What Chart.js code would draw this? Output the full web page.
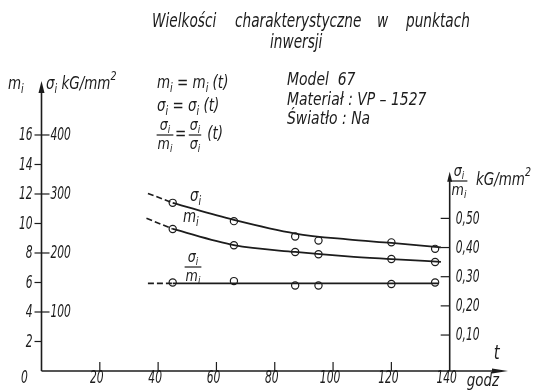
<!DOCTYPE html>
<html>
<head>
<meta charset="utf-8">
<script src="https://cdn.jsdelivr.net/npm/chart.js@4.4.1/dist/chart.umd.min.js"></script>
<style>
  html, body { margin: 0; padding: 0; background: #fff; }
  #wrap { width: 535px; height: 390px; position: relative; }
</style>
</head>
<body>
<div id="wrap"><canvas id="myChart"></canvas></div>
<script>
// measured points (t in hours)
const hours = [45, 66, 87, 95, 120, 135];
const sigmaVals = [285, 254, 228, 221, 218, 207];
const mVals = [9.63, 8.53, 8.07, 7.91, 7.59, 7.39];
const ratioVals = [0.28, 0.285, 0.27, 0.27, 0.275, 0.28];

// smooth curves drawn through the measurements
const fitHours = [45, 66, 87, 105, 120, 137];
const sigmaFit = [285, 256, 233, 223, 217, 209.5];
const mFit = [9.63, 8.53, 8.07, 7.77, 7.59, 7.40];
const ratioLevel = 0.277;

// dashed extrapolation back to ~36 h
const extraHours = [36.5, 36, 36.5];
const extraVals = [301, 10.35, 0.277];

// axis ticks
const hourTicks = [0, 20, 40, 60, 80, 100, 120, 140];
const mTicks = [2, 4, 6, 8, 10, 12, 14, 16];
const sigmaTicks = [100, 200, 300, 400];
const ratioTicks = [0.1, 0.2, 0.3, 0.4, 0.5];

const FONT = '"Liberation Sans Narrow", "DejaVu Sans Condensed", sans-serif';
const INK = '#1c1c1c';

const ctx = document.getElementById('myChart');

function pts(xs, ys) {
  return xs.map((x, i) => ({ x: x, y: ys[i] }));
}

// text with _sub and ^sup pieces, squeezed horizontally
function runs(c, parts, x, y, size, sq) {
  sq = sq || 0.88;
  c.save();
  c.translate(x, y);
  c.scale(sq, 1);
  let cx = 0;
  parts.forEach(p => {
    const sub = p[0] === '_';
    const sup = p[0] === '^';
    const s = (sub || sup) ? p.slice(1) : p;
    const fs = (sub || sup) ? Math.round(size * 0.68) : size;
    c.font = 'italic ' + fs + 'px ' + FONT;
    const dy = sub ? size * 0.3 : (sup ? -size * 0.45 : 0);
    c.fillText(s, cx, dy);
    cx += c.measureText(s).width;
  });
  c.restore();
  return cx * sq;
}

function runsWidth(c, parts, size, sq) {
  sq = sq || 0.88;
  let w = 0;
  parts.forEach(p => {
    const small = p[0] === '_' || p[0] === '^';
    const s = small ? p.slice(1) : p;
    c.font = 'italic ' + (small ? Math.round(size * 0.68) : size) + 'px ' + FONT;
    w += c.measureText(s).width;
  });
  return w * sq;
}

function frac(c, num, den, cx, yBar, size) {
  const wn = runsWidth(c, num, size);
  const wd = runsWidth(c, den, size);
  const w = Math.max(wn, wd) + 2;
  runs(c, num, cx - wn / 2, yBar - size * 0.6, size);
  runs(c, den, cx - wd / 2, yBar + size * 0.6, size);
  c.beginPath();
  c.moveTo(cx - w / 2, yBar);
  c.lineTo(cx + w / 2, yBar);
  c.stroke();
}

// narrow tick numbers
function num(c, s, x, y, align) {
  c.font = 'italic 17px ' + FONT;
  c.save();
  c.translate(x, y);
  c.scale(0.7, 1);
  c.textAlign = align;
  c.fillText(s, 0, 0);
  c.restore();
}

function arrow(c, tipX, tipY, dir, len, half) {
  c.beginPath();
  if (dir === 'up') {
    c.moveTo(tipX, tipY);
    c.lineTo(tipX - half, tipY + len);
    c.lineTo(tipX + half, tipY + len);
  } else {
    c.moveTo(tipX, tipY);
    c.lineTo(tipX - len, tipY - half);
    c.lineTo(tipX - len, tipY + half);
  }
  c.closePath();
  c.fill();
}

const drawAxes = {
  id: 'drawAxes',
  beforeDatasetsDraw(chart) {
    const c = chart.ctx;
    const xs = chart.scales.x, ym = chart.scales.y, yr = chart.scales.yr;
    const area = chart.chartArea;
    const x0 = xs.getPixelForValue(0);
    const yb = ym.getPixelForValue(0);
    const xr = xs.getPixelForValue(140);

    c.save();
    c.strokeStyle = INK;
    c.fillStyle = INK;
    c.lineWidth = 1.6;

    // left axis with arrow
    c.beginPath();
    c.moveTo(x0, yb);
    c.lineTo(x0, area.top + 6);
    c.stroke();
    arrow(c, x0, area.top, 'up', 12, 3);

    // bottom axis with arrow
    c.beginPath();
    c.moveTo(x0, yb);
    c.lineTo(area.right - 6, yb);
    c.stroke();
    arrow(c, area.right, yb, 'right', 16, 2.5);

    // right axis (sigma/m)
    const rTop = yr.getPixelForValue(0.66);
    c.beginPath();
    c.moveTo(xr, yb);
    c.lineTo(xr, rTop + 5);
    c.stroke();
    arrow(c, xr, rTop, 'up', 10, 2.5);

    c.lineWidth = 1.2;
    c.textBaseline = 'middle';

    // m ticks, left side
    mTicks.forEach(v => {
      const y = ym.getPixelForValue(v);
      c.beginPath();
      c.moveTo(x0 - 7, y);
      c.lineTo(x0, y);
      c.stroke();
      num(c, String(v), x0 - 9, y + 1, 'right');
    });

    // sigma ticks, right side of the left axis
    sigmaTicks.forEach(v => {
      const y = chart.scales.ys.getPixelForValue(v);
      c.beginPath();
      c.moveTo(x0, y);
      c.lineTo(x0 + 8, y);
      c.stroke();
      num(c, String(v), x0 + 9, y + 1, 'left');
    });

    // hour ticks, pointing up
    hourTicks.forEach(v => {
      const x = xs.getPixelForValue(v);
      if (v > 0 && v < 140) {
        c.beginPath();
        c.moveTo(x, yb);
        c.lineTo(x, yb - 9);
        c.stroke();
      }
      const lx = v === 0 ? x - 17 : x - 3;
      num(c, String(v), lx, yb + 8, 'center');
    });

    // ratio ticks on the right axis
    ratioTicks.forEach(v => {
      const y = yr.getPixelForValue(v);
      c.beginPath();
      c.moveTo(xr - 9, y);
      c.lineTo(xr, y);
      c.stroke();
      num(c, v.toFixed(2).replace('.', ','), xr + 6, y + 1, 'left');
    });
    c.restore();
  },
  afterDraw(chart) {
    const c = chart.ctx;
    const xs = chart.scales.x, ym = chart.scales.y;
    const yb = ym.getPixelForValue(0);
    c.save();
    c.fillStyle = INK;
    c.strokeStyle = INK;
    c.lineWidth = 1;
    c.textBaseline = 'middle';
    c.textAlign = 'left';

    // title
    runs(c, ['Wielkości'], 152, 22, 19, 0.8);
    runs(c, ['charakterystyczne'], 235, 22, 19, 0.8);
    runs(c, ['w'], 377, 22, 19, 0.8);
    runs(c, ['punktach'], 406, 22, 19, 0.8);
    runs(c, ['inwersji'], 270, 43, 19, 0.8);

    // left axis caption
    runs(c, ['m', '_i'], 8, 85, 17);
    runs(c, ['σ', '_i', ' kG/mm', '^2'], 46, 85, 17);

    // formulas
    runs(c, ['m', '_i', ' = m', '_i', ' (t)'], 157, 84, 17);
    runs(c, ['σ', '_i', ' = σ', '_i', ' (t)'], 157, 107, 17);
    c.lineWidth = 1.2;
    frac(c, ['σ', '_i'], ['m', '_i'], 165, 135, 16);
    runs(c, ['='], 175, 135, 17);
    frac(c, ['σ', '_i'], ['σ', '_i'], 195, 135, 16);
    runs(c, [' (t)'], 203, 135, 17);

    // specimen info
    runs(c, ['Model  67'], 287, 80, 18, 0.86);
    runs(c, ['Materiał : VP – 1527'], 287, 100, 18, 0.86);
    runs(c, ['Światło : Na'], 287, 119, 18, 0.86);

    // curve labels
    runs(c, ['σ', '_i'], 190, 197, 17);
    runs(c, ['m', '_i'], 183, 218, 17);
    frac(c, ['σ', '_i'], ['m', '_i'], 193, 267, 16);

    // right axis caption
    frac(c, ['σ', '_i'], ['m', '_i'], 459, 181, 16);
    runs(c, ['kG/mm', '^2'], 476, 181, 17);

    // time axis caption
    const xr = xs.getPixelForValue(140);
    runs(c, ['godz'], xr + 17, yb + 11, 17);
    runs(c, ['t'], xr + 44, yb - 17, 19);
    c.restore();
  }
};

const lineBase = {
  showLine: true,
  borderColor: INK,
  borderWidth: 1.8,
  pointRadius: 0,
  clip: false
};

const dashBase = {
  showLine: true,
  borderColor: INK,
  borderWidth: 1.6,
  borderDash: [6, 3],
  pointRadius: 0,
  clip: false
};

const markBase = {
  showLine: false,
  pointRadius: 3.6,
  pointBackgroundColor: '#fff',
  pointBorderColor: INK,
  pointBorderWidth: 1.2,
  clip: false
};

new Chart(ctx, {
  type: 'scatter',
  data: {
    datasets: [
      Object.assign({}, dashBase, { label: 'σi ext', yAxisID: 'ys',
        data: [{ x: extraHours[0], y: extraVals[0] }, { x: fitHours[0], y: sigmaFit[0] }] }),
      Object.assign({}, dashBase, { label: 'mi ext', yAxisID: 'y',
        data: [{ x: extraHours[1], y: extraVals[1] }, { x: fitHours[0], y: mFit[0] }] }),
      Object.assign({}, dashBase, { label: 'ratio ext', yAxisID: 'yr',
        data: [{ x: extraHours[2], y: extraVals[2] }, { x: hours[0], y: ratioLevel }] }),
      Object.assign({}, lineBase, { label: 'σi curve', yAxisID: 'ys', cubicInterpolationMode: 'monotone',
        data: pts(fitHours, sigmaFit) }),
      Object.assign({}, lineBase, { label: 'mi curve', yAxisID: 'y', cubicInterpolationMode: 'monotone',
        data: pts(fitHours, mFit) }),
      Object.assign({}, lineBase, { label: 'ratio level', yAxisID: 'yr',
        data: [{ x: hours[0], y: ratioLevel }, { x: 136, y: ratioLevel }] }),
      Object.assign({}, markBase, { label: 'σi', yAxisID: 'ys', data: pts(hours, sigmaVals) }),
      Object.assign({}, markBase, { label: 'mi', yAxisID: 'y', data: pts(hours, mVals) }),
      Object.assign({}, markBase, { label: 'σi/mi', yAxisID: 'yr', data: pts(hours, ratioVals) })
    ]
  },
  options: {
    responsive: true,
    maintainAspectRatio: false,
    animation: false,
    layout: { padding: { left: 41.5, right: 27, top: 81, bottom: 19 } },
    plugins: { legend: { display: false }, tooltip: { enabled: false } },
    scales: {
      x: { type: 'linear', min: 0, max: 160, display: false },
      y: { type: 'linear', min: 0, max: 19.66, display: false },
      ys: { type: 'linear', min: 0, max: 491.5, display: false },
      yr: { type: 'linear', min: -0.0233, max: 0.971, display: false }
    }
  },
  plugins: [drawAxes]
});
</script>
</body>
</html>
